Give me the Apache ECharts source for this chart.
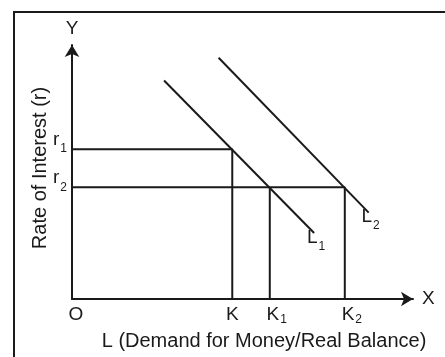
<!DOCTYPE html>
<html>
<head>
<meta charset="utf-8">
<script src="https://cdn.jsdelivr.net/npm/echarts@6/dist/echarts.min.js"></script>
<style>
  html, body { margin: 0; padding: 0; background: #fff; }
  #chart { width: 445px; height: 357px; }
</style>
</head>
<body>
<div id="chart"></div>
<script>
// Liquidity preference: demand for money shifts from L1 to L2
const demandTicks = [0, 47, 58, 80];            // O, K, K1, K2 on the L axis
const demandNames = [['O', ''], ['K', ''], ['K', '1'], ['K', '2']];
const rateTicks = [59, 44];                      // r1, r2 on the r axis
const rateNames = [['r', '1'], ['r', '2']];
const curveL1 = [[27, 86], [71, 26]];
const curveL2 = [[43, 95], [87, 34]];
const curveNames = [['L', '1'], ['L', '2']];

const INK = '#1a1a1a';
const FONT = '"Liberation Sans", Arial, sans-serif';

const [xO, xK, xK1, xK2] = demandTicks;
const [r1, r2] = rateTicks;

// guide lines dropped from the intersections
const guideR1 = [[xO, r1], [xK, r1], [xK, 0]];
const guideR2 = [[xO, r2], [xK2, r2], [xK2, 0]];
const guideK1 = [[xK1, r2], [xK1, 0]];

const txt = { fontFamily: FONT, color: INK };

// rich styles: letter + lowered subscript
const xRich = {
  o: Object.assign({ fontSize: 19, lineHeight: 22, padding: [0, 0, 0, 8] }, txt),
  m: Object.assign({ fontSize: 19, lineHeight: 22 }, txt),
  k: Object.assign({ fontSize: 19, lineHeight: 22, padding: [0, 0, 0, 14] }, txt),
  s: Object.assign({ fontSize: 12, lineHeight: 12, padding: [10, 0, 0, 1] }, txt)
};
const yRich = {
  m: Object.assign({ fontSize: 19, lineHeight: 19, padding: [0, 0, 18, 0] }, txt),
  s: Object.assign({ fontSize: 12, lineHeight: 12, padding: [0, 0, 0, 1] }, txt)
};
const curveRich = {
  m: Object.assign({ fontSize: 19, lineHeight: 19, padding: [0, 0, 0, 4] }, txt),
  s: Object.assign({ fontSize: 12, lineHeight: 12, padding: [18, 0, 0, 1] }, txt)
};

function demandLabel(pair, i) {
  if (!pair[1]) return '{' + (i === 0 ? 'o' : 'm') + '|' + pair[0] + '}';
  return '{k|' + pair[0] + '}{s|' + pair[1] + '}';
}
function subLabel(pair) {
  return '{m|' + pair[0] + '}{s|' + pair[1] + '}';
}

function lineSeries(data) {
  return {
    type: 'line',
    data: data,
    showSymbol: false,
    symbol: 'none',
    silent: true,
    animation: false,
    lineStyle: { color: INK, width: 2 }
  };
}

function curveSeries(points, name) {
  return {
    type: 'line',
    data: [
      { value: points[0] },
      {
        value: points[1],
        label: {
          show: true,
          position: 'bottom',
          distance: -5,
          formatter: subLabel(name),
          rich: curveRich
        }
      }
    ],
    symbol: 'circle',
    symbolSize: 0,
    showSymbol: true,
    silent: true,
    animation: false,
    lineStyle: { color: INK, width: 2 }
  };
}

const arrowLine = {
  show: true,
  symbol: ['none', 'arrow'],
  symbolSize: [11, 12],
  lineStyle: { color: INK, width: 2 }
};

const chart = echarts.init(document.getElementById('chart'), null, { renderer: 'canvas' });

chart.setOption({
  backgroundColor: '#fff',
  animation: false,
  grid: { left: 72, right: 32, top: 45, bottom: 58 },
  xAxis: {
    type: 'value',
    min: 0,
    max: 100,
    name: 'X',
    nameLocation: 'end',
    nameGap: 9,
    nameTextStyle: { fontSize: 19, fontFamily: FONT, color: INK },
    axisLine: arrowLine,
    axisTick: { show: false },
    splitLine: { show: false },
    axisLabel: {
      customValues: demandTicks,
      margin: 5,
      formatter: function (v) {
        const i = demandTicks.indexOf(v);
        return i < 0 ? '' : demandLabel(demandNames[i], i);
      },
      rich: xRich
    }
  },
  yAxis: {
    type: 'value',
    min: 0,
    max: 100,
    name: 'Y',
    nameLocation: 'end',
    nameGap: 7,
    nameTextStyle: { fontSize: 19, fontFamily: FONT, color: INK, align: 'center' },
    axisLine: arrowLine,
    axisTick: { show: false },
    splitLine: { show: false },
    axisLabel: {
      customValues: rateTicks,
      margin: 5,
      formatter: function (v) {
        const i = rateTicks.indexOf(v);
        return i < 0 ? '' : subLabel(rateNames[i]);
      },
      rich: yRich
    }
  },
  graphic: [
    {
      type: 'rect',
      shape: { x: 14, y: 12, width: 440, height: 360 },
      style: { fill: 'none', stroke: INK, lineWidth: 2 },
      silent: true
    },
    {
      type: 'text',
      x: 40,
      y: 168,
      rotation: Math.PI / 2,
      style: {
        text: 'Rate of Interest (r)',
        font: '20px ' + FONT,
        fill: INK,
        align: 'center',
        verticalAlign: 'middle'
      }
    },
    {
      type: 'text',
      x: 264,
      y: 341,
      style: {
        text: 'L (Demand for Money/Real Balance)',
        font: '20px ' + FONT,
        fill: INK,
        align: 'center',
        verticalAlign: 'middle'
      }
    }
  ],
  series: [
    lineSeries(guideR1),
    lineSeries(guideR2),
    lineSeries(guideK1),
    curveSeries(curveL1, curveNames[0]),
    curveSeries(curveL2, curveNames[1])
  ]
});
</script>
</body>
</html>
